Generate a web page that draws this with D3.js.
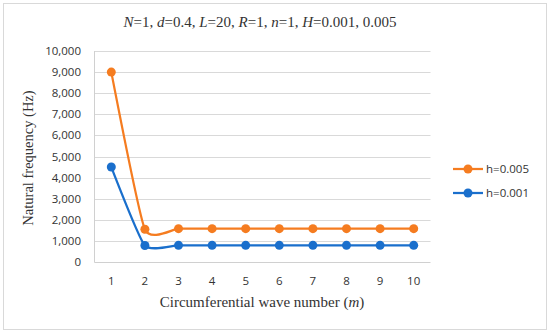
<!DOCTYPE html>
<html>
<head>
<meta charset="utf-8">
<script src="https://cdn.jsdelivr.net/npm/d3@7"></script>
<style>
  body { margin: 0; background: #fff; }
  svg text { fill: #333; }
</style>
</head>
<body>
<div id="canvas"></div>
<script>
// chart data
const waveNumbers = [1, 2, 3, 4, 5, 6, 7, 8, 9, 10]
const seriesNames = ['h=0.005', 'h=0.001']
const h005 = [9000, 1550, 1580, 1580, 1580, 1580, 1580, 1580, 1580, 1580]
const h001 = [4500, 780, 790, 790, 790, 790, 790, 790, 790, 790]
const yTicks = [0, 1000, 2000, 3000, 4000, 5000, 6000, 7000, 8000, 9000, 10000]

const width = 550
const height = 334
const colors = ['#f57c20', '#1a6fcc']

const svg = d3.select('#canvas').append('svg')
  .attr('width', width)
  .attr('height', height)

// outer frame
svg.append('rect')
  .attr('x', 3.5).attr('y', 3.5)
  .attr('width', 543).attr('height', 326)
  .attr('fill', '#fff')
  .attr('stroke', '#d9d9d9')

const x = d3.scaleBand().domain(waveNumbers).range([94.5, 430.5])
const y = d3.scaleLinear().domain([0, 10000]).range([262, 51])

// gridlines
svg.append('g')
  .selectAll('line')
  .data(yTicks.filter(d => d > 0))
  .join('line')
  .attr('x1', 94.5).attr('x2', 430.5)
  .attr('y1', d => Math.round(y(d)) + 0.5)
  .attr('y2', d => Math.round(y(d)) + 0.5)
  .attr('stroke', '#d9d9d9')

// axes lines
svg.append('line')
  .attr('x1', 94.5).attr('x2', 430.5).attr('y1', 262.5).attr('y2', 262.5)
  .attr('stroke', '#d0d0d0')
svg.append('line')
  .attr('x1', 94.5).attr('x2', 94.5).attr('y1', 51).attr('y2', 262.5)
  .attr('stroke', '#d0d0d0')

const fmt = d3.format(',')
const tickFont = '11.5px "Open Sans", sans-serif'

svg.append('g')
  .selectAll('text')
  .data(yTicks)
  .join('text')
  .attr('x', 81)
  .attr('y', d => y(d))
  .attr('dy', '0.35em')
  .attr('text-anchor', 'end')
  .style('font', tickFont)
  .text(d => fmt(d))

svg.append('g')
  .selectAll('text')
  .data(waveNumbers)
  .join('text')
  .attr('x', d => x(d) + x.bandwidth() / 2)
  .attr('y', 281)
  .attr('dy', '0.35em')
  .attr('text-anchor', 'middle')
  .style('font', tickFont)
  .text(d => d)

// series (smoothed like the spreadsheet lines)
const line = d3.line()
  .x((d, i) => x(waveNumbers[i]) + x.bandwidth() / 2)
  .y(d => y(d))
  .curve(d3.curveCardinal.tension(0.5))

const allSeries = [h005, h001]
allSeries.forEach((vals, k) => {
  svg.append('path')
    .datum(vals)
    .attr('d', line)
    .attr('fill', 'none')
    .attr('stroke', colors[k])
    .attr('stroke-width', 2.25)
  svg.append('g')
    .selectAll('circle')
    .data(vals)
    .join('circle')
    .attr('cx', (d, i) => x(waveNumbers[i]) + x.bandwidth() / 2)
    .attr('cy', d => y(d))
    .attr('r', 4.5)
    .attr('fill', colors[k])
})

// legend
seriesNames.forEach((name, k) => {
  const ly = 169 + k * 24
  svg.append('line')
    .attr('x1', 453).attr('x2', 483).attr('y1', ly).attr('y2', ly)
    .attr('stroke', colors[k]).attr('stroke-width', 2.25)
  svg.append('circle')
    .attr('cx', 468).attr('cy', ly).attr('r', 4.5).attr('fill', colors[k])
  svg.append('text')
    .attr('x', 486).attr('y', ly).attr('dy', '0.35em')
    .style('font', tickFont)
    .text(name)
})

// title
const title = svg.append('text')
  .attr('x', 260).attr('y', 27)
  .attr('text-anchor', 'middle')
  .style('font', '15px "Liberation Serif", serif')
const parts = [['N', 1], ['=1, ', 0], ['d', 1], ['=0.4, ', 0], ['L', 1], ['=20, ', 0],
  ['R', 1], ['=1, ', 0], ['n', 1], ['=1, ', 0], ['H', 1], ['=0.001, 0.005', 0]]
parts.forEach(p => {
  title.append('tspan').text(p[0]).style('font-style', p[1] ? 'italic' : 'normal')
})

// axis titles
svg.append('text')
  .attr('transform', 'translate(33,158) rotate(-90)')
  .attr('text-anchor', 'middle')
  .style('font', '14.5px "Liberation Serif", serif')
  .text('Natural frequency (Hz)')

const xt = svg.append('text')
  .attr('x', 262).attr('y', 307)
  .attr('text-anchor', 'middle')
  .style('font', '15px "Liberation Serif", serif')
xt.append('tspan').text('Circumferential wave number (')
xt.append('tspan').text('m').style('font-style', 'italic')
xt.append('tspan').text(')')
</script>
</body>
</html>
